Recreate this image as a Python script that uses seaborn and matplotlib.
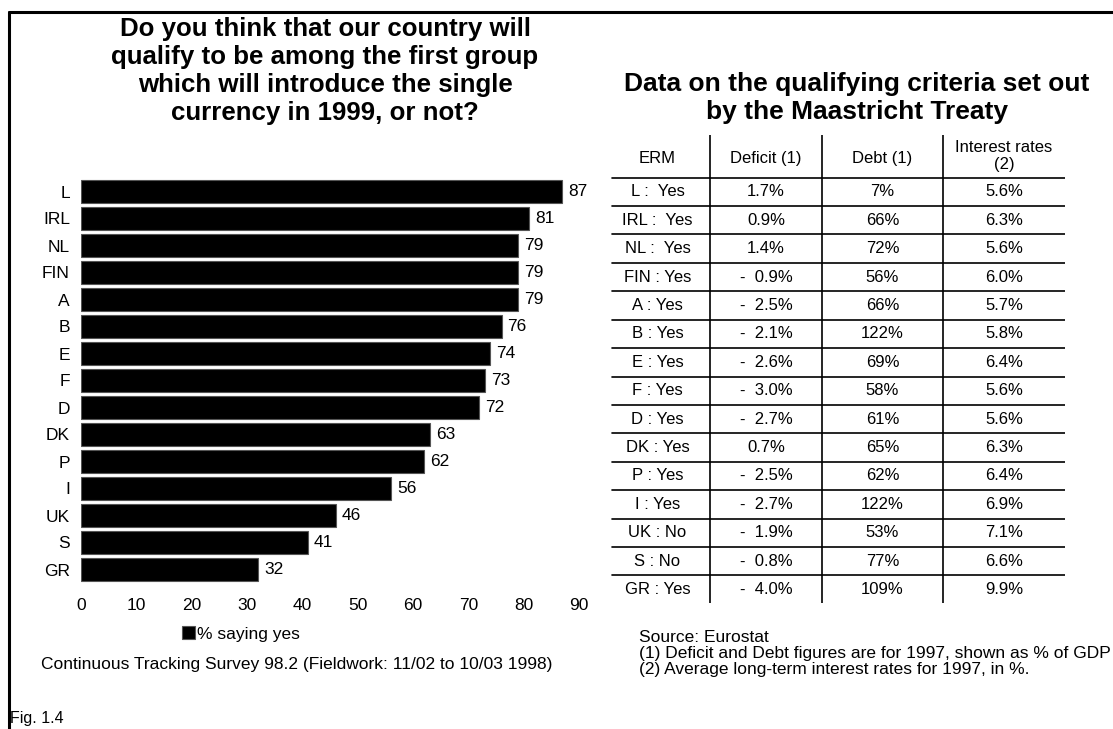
import matplotlib
matplotlib.use("Agg")
import matplotlib.pyplot as plt
from matplotlib.lines import Line2D
import seaborn as sns

# bar chart data
countries = ['L', 'IRL', 'NL', 'FIN', 'A', 'B', 'E', 'F', 'D', 'DK', 'P', 'I', 'UK', 'S', 'GR']
pct_yes = [87, 81, 79, 79, 79, 76, 74, 73, 72, 63, 62, 56, 46, 41, 32]

# table data
col_headers = ['ERM', 'Deficit (1)', 'Debt (1)', 'Interest rates\n(2)']
erm = ['L :  Yes', 'IRL :  Yes', 'NL :  Yes', 'FIN : Yes', 'A : Yes', 'B : Yes', 'E : Yes',
       'F : Yes', 'D : Yes', 'DK : Yes', 'P : Yes', 'I : Yes', 'UK : No', 'S : No', 'GR : Yes']
deficit = ['1.7%', '0.9%', '1.4%', '-  0.9%', '-  2.5%', '-  2.1%', '-  2.6%', '-  3.0%',
           '-  2.7%', '0.7%', '-  2.5%', '-  2.7%', '-  1.9%', '-  0.8%', '-  4.0%']
debt = ['7%', '66%', '72%', '56%', '66%', '122%', '69%', '58%', '61%', '65%', '62%',
        '122%', '53%', '77%', '109%']
interest = ['5.6%', '6.3%', '5.6%', '6.0%', '5.7%', '5.8%', '6.4%', '5.6%', '5.6%', '6.3%',
            '6.4%', '6.9%', '7.1%', '6.6%', '9.9%']

sns.set_style('white')
plt.rcParams['font.family'] = ['Liberation Sans', 'DejaVu Sans']
plt.rcParams['text.color'] = 'black'
plt.rcParams['xtick.labelcolor'] = 'black'
plt.rcParams['ytick.labelcolor'] = 'black'

W, H = 1113, 729
fig = plt.figure(figsize=(W / 100, H / 100), dpi=100)

# ---- left: bar chart
ax = fig.add_axes([81 / W, 1 - 583 / H, (579 - 81) / W, (583 - 178) / H])
sns.barplot(x=pct_yes, y=countries, orient='h', color='black', width=0.86,
            edgecolor='#555555', linewidth=0.8, saturation=1, label='% saying yes', ax=ax)
ax.set_xlim(0, 90)
ax.set_xticks(range(0, 91, 10))
ax.set_xlabel('')
ax.set_ylabel('')
sns.despine(ax=ax, left=True, bottom=True)
ax.tick_params(axis='both', length=0, labelsize=12.5)
ax.tick_params(axis='x', pad=11)
ax.tick_params(axis='y', pad=8)
for i, v in enumerate(pct_yes):
    ax.text(v + 1.1, i, str(v), va='center', ha='left', fontsize=12.5)
if ax.get_legend():
    ax.get_legend().remove()

handles, labels = ax.get_legend_handles_labels()
fig.legend(handles[:1], labels[:1], loc='center left', bbox_to_anchor=(182 / W, 1 - 634 / H),
           frameon=False, fontsize=12.5, handlelength=0.75, handleheight=0.75,
           handletextpad=0.1, borderpad=0, borderaxespad=0)

fig.text(297 / W, 1 - 665 / H, 'Continuous Tracking Survey 98.2 (Fieldwork: 11/02 to 10/03 1998)',
         ha='center', va='center', fontsize=12.5)

fig.text(325 / W, 1 - 71 / H,
         'Do you think that our country will\nqualify to be among the first group\n'
         'which will introduce the single\ncurrency in 1999, or not?',
         ha='center', va='center', fontsize=18.6, fontweight='bold', linespacing=1.22)

# ---- right: table
fig.text(857 / W, 1 - 98 / H, 'Data on the qualifying criteria set out\nby the Maastricht Treaty',
         ha='center', va='center', fontsize=19, fontweight='bold', linespacing=1.2)

tx = fig.add_axes([605 / W, 1 - 603 / H, (1065 - 605) / W, (603 - 135) / H])
tx.set_xlim(0, 460)
tx.set_ylim(14.47, -2.0)
tx.axis('off')
col_edges = [0, 105, 217, 338, 460]
col_centers = [(a + b) / 2 for a, b in zip(col_edges[:-1], col_edges[1:])]
for xe in col_edges[1:-1]:
    tx.plot([xe, xe], [-2.0, 14.47], color='black', lw=1.2)
for r in range(len(erm)):
    tx.plot([7, 460], [r - 0.5, r - 0.5], color='black', lw=1.2)
for c, h in zip(col_centers, col_headers):
    y_h = -1.26 if '\n' in h else -1.16
    tx.text(c, y_h, h, ha='center', va='center', fontsize=12, linespacing=1.2)
for c, col in zip(col_centers, [erm, deficit, debt, interest]):
    for r, s in enumerate(col):
        tx.text(c, r, s, ha='center', va='center', fontsize=12)

fig.text(639 / W, 1 - 630 / H,
         'Source: Eurostat\n(1) Deficit and Debt figures are for 1997, shown as % of GDP\n'
         '(2) Average long-term interest rates for 1997, in %.',
         ha='left', va='top', fontsize=12.5, linespacing=1.08)

fig.text(10 / W, 1 - 719 / H, 'Fig. 1.4', ha='left', va='center', fontsize=11.5)

# frame lines
fig.add_artist(Line2D([9 / W, 1], [1 - 12 / H, 1 - 12 / H], color='black', lw=2.2))
fig.add_artist(Line2D([9 / W, 9 / W], [0, 1 - 12 / H], color='black', lw=2.2))

fig.savefig('out.png', dpi=100)
